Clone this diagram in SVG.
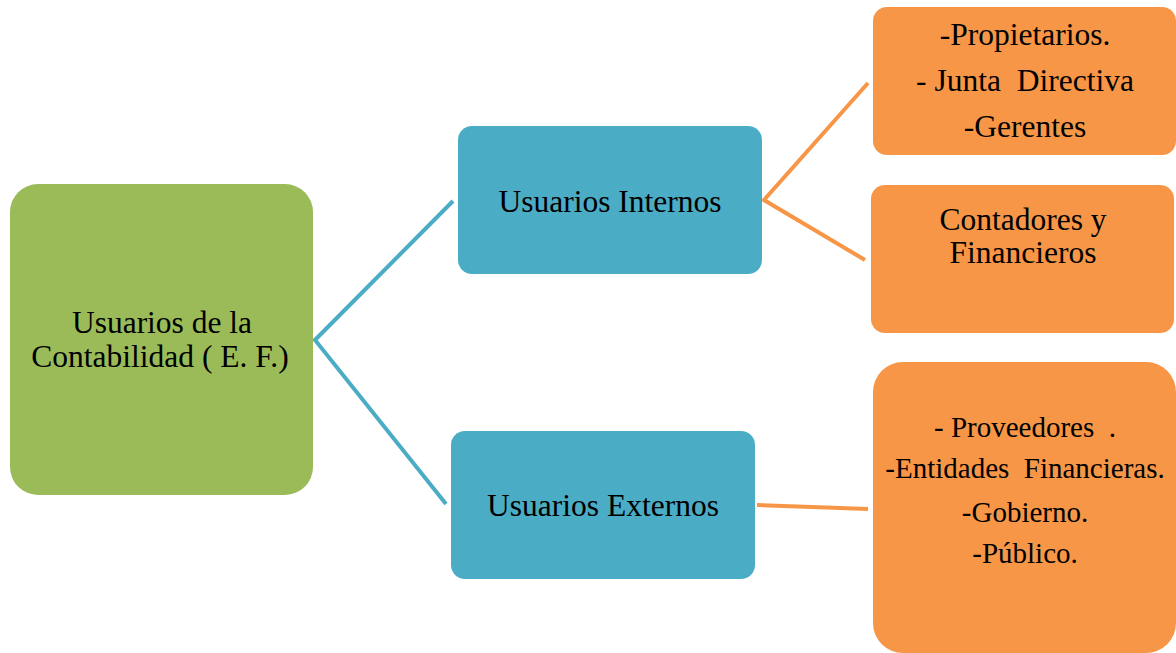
<svg xmlns="http://www.w3.org/2000/svg" width="1176" height="653" viewBox="0 0 1176 653">
<style>
.t{font-family:'Liberation Serif','Times New Roman','DejaVu Serif',serif;font-size:31.5px;fill:#000;text-anchor:middle}
.s{font-size:29px}
.g{fill:#9BBB59}.b{fill:#4BACC6}.o{fill:#F79646}
.cb{stroke:#4BACC6;stroke-width:4;fill:none}
.co{stroke:#F79646;stroke-width:4;fill:none}
</style>
<rect width="1176" height="653" fill="#fff"/>
<g id="connectors">
<path class="cb" d="M453,201 L315,340 L446,504"/>
<path class="co" d="M868,83 L764,200 L865,260"/>
<path class="co" d="M757,505 L868,509"/>
</g>
<g id="root"><rect class="g" x="10" y="184" width="303" height="311" rx="28"/>
<text class="t" x="162" y="333">Usuarios de la</text>
<text class="t" x="160" y="367">Contabilidad ( E. F.)</text></g>
<g id="internos"><rect class="b" x="458" y="126" width="304" height="148" rx="14"/>
<text class="t" x="610" y="212">Usuarios Internos</text></g>
<g id="externos"><rect class="b" x="451" y="431" width="304" height="148" rx="14"/>
<text class="t" x="603" y="516">Usuarios Externos</text></g>
<g id="directivos"><rect class="o" x="873" y="7" width="303" height="148" rx="14"/>
<text class="t" x="1025" y="45">-Propietarios.</text>
<text class="t" x="1025" y="91" xml:space="preserve">- Junta  Directiva</text>
<text class="t" x="1025" y="137">-Gerentes</text></g>
<g id="contadores"><rect class="o" x="871" y="185" width="303" height="148" rx="14"/>
<text class="t" x="1023" y="230">Contadores y</text>
<text class="t" x="1023" y="263">Financieros</text></g>
<g id="externos-lista"><rect class="o" x="873" y="362" width="303" height="291" rx="30"/>
<text class="t s" x="1025" y="437" xml:space="preserve">- Proveedores  .</text>
<text class="t s" x="1025" y="478" xml:space="preserve">-Entidades  Financieras.</text>
<text class="t s" x="1025" y="522">-Gobierno.</text>
<text class="t s" x="1025" y="563">-Público.</text></g>
</svg>
